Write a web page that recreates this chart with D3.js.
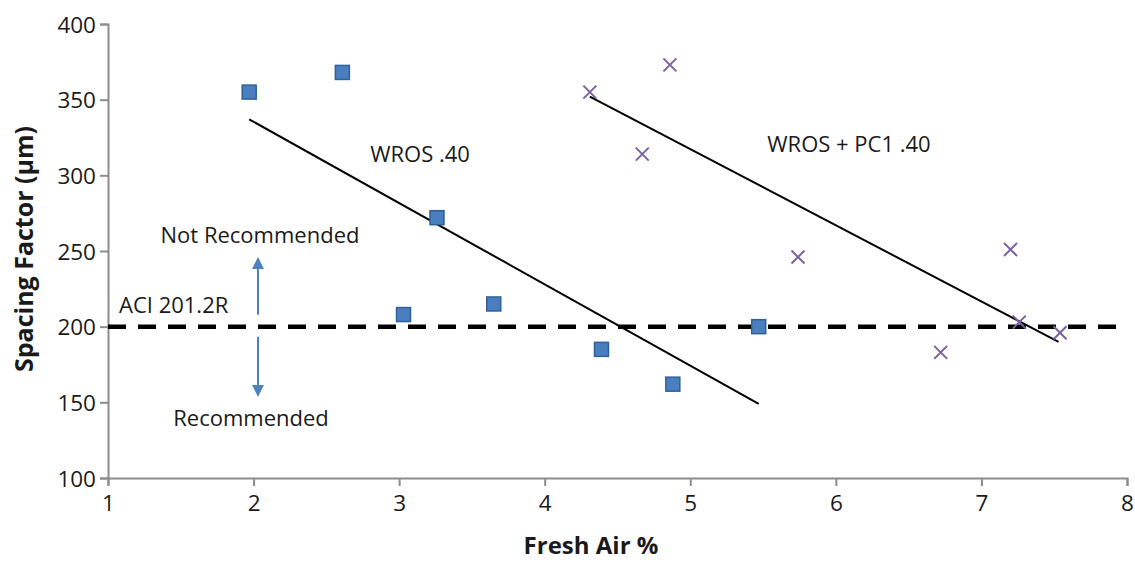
<!DOCTYPE html>
<html>
<head>
<meta charset="utf-8">
<script src="https://cdn.jsdelivr.net/npm/d3@7"></script>
<style>
  html, body { margin: 0; padding: 0; background: #fff; }
  svg { display: block; font-family: "Open Sans", sans-serif; }
</style>
</head>
<body>
<svg id="chart" width="1135" height="563"></svg>
<script>
// WROS .40 mixes (squares)
const wrosAir = [1.97, 2.61, 3.26, 3.03, 3.65, 4.39, 4.88, 5.47];
const wrosSpacing = [355, 368, 272, 208, 215, 185, 162, 200];

// WROS + PC1 .40 mixes (crosses)
const pc1Air = [4.31, 4.86, 4.67, 5.74, 7.20, 7.26, 7.54, 6.72];
const pc1Spacing = [355, 373, 314, 246, 251, 203, 196, 183];

// Linear trend lines: [x, y] endpoints
const wrosTrend = [[1.97, 337], [5.47, 149]];
const pc1Trend = [[4.31, 352], [7.53, 190]];

// ACI 201.2R spacing factor limit
const aciLimit = 200;

const xTicks = [1, 2, 3, 4, 5, 6, 7, 8];
const yTicks = [100, 150, 200, 250, 300, 350, 400];

const svg = d3.select("#chart");
const plotLeft = 108, plotRight = 1127, plotTop = 24, plotBottom = 478;

const x = d3.scaleLinear().domain([1, 8]).range([plotLeft, plotRight]);
const y = d3.scaleLinear().domain([100, 400]).range([plotBottom, plotTop]);

const axisColor = "#8c8c8c";
const textColor = "#1a1a1a";

// Axes
const gx = svg.append("g")
  .attr("transform", `translate(0,${plotBottom})`)
  .call(d3.axisBottom(x).tickValues(xTicks).tickSize(8).tickPadding(6).tickFormat(d3.format("d")));
const gy = svg.append("g")
  .attr("transform", `translate(${plotLeft},0)`)
  .call(d3.axisLeft(y).tickValues(yTicks).tickSize(8).tickPadding(4).tickFormat(d3.format("d")));

[gx, gy].forEach(g => {
  g.select(".domain").attr("stroke", axisColor).attr("stroke-width", 2);
  g.selectAll(".tick line").attr("stroke", axisColor).attr("stroke-width", 2);
  g.selectAll(".tick text")
    .attr("fill", textColor)
    .style("font-family", "'Open Sans', sans-serif")
    .style("font-size", "22.5px");
});
gx.selectAll(".tick text").attr("dy", "0.85em");
gy.selectAll(".tick text").attr("dy", "0.36em");

// Axis titles
svg.append("text")
  .attr("x", 591).attr("y", 554)
  .attr("text-anchor", "middle")
  .attr("fill", textColor)
  .style("font-weight", "bold").style("font-size", "24px")
  .text("Fresh Air %");
svg.append("text")
  .attr("transform", `translate(33,${249}) rotate(-90)`)
  .attr("text-anchor", "middle")
  .attr("fill", textColor)
  .style("font-weight", "bold").style("font-size", "25px")
  .text("Spacing Factor (μm)");

// ACI limit line
svg.append("line")
  .attr("x1", x(1)).attr("x2", x(8))
  .attr("y1", y(aciLimit)).attr("y2", y(aciLimit))
  .attr("stroke", "#000").attr("stroke-width", 4.5)
  .attr("stroke-dasharray", "18 12");

// Trend lines
const line = d3.line().x(d => x(d[0])).y(d => y(d[1]));
[wrosTrend, pc1Trend].forEach(t => {
  svg.append("path").attr("d", line(t))
    .attr("fill", "none").attr("stroke", "#000").attr("stroke-width", 2);
});

// Recommendation arrows
const arrowColor = "#4f81bd";
const ax = 258;
function arrow(y0, y1) {
  const dir = Math.sign(y1 - y0);
  const head = 12;
  svg.append("line")
    .attr("x1", ax).attr("x2", ax)
    .attr("y1", y0).attr("y2", y1 - dir * head)
    .attr("stroke", arrowColor).attr("stroke-width", 2);
  svg.append("path")
    .attr("d", `M${ax},${y1} L${ax - 6},${y1 - dir * head} L${ax + 6},${y1 - dir * head} Z`)
    .attr("fill", arrowColor);
}
arrow(y(aciLimit) - 12, 257);
arrow(y(aciLimit) + 10, 397);

// Annotations
const notes = [
  { t: "Not Recommended", x: 260, y: 243, a: "middle" },
  { t: "Recommended", x: 251, y: 426, a: "middle" },
  { t: "ACI 201.2R", x: 119, y: 313, a: "start" },
  { t: "WROS .40", x: 420, y: 162, a: "middle" },
  { t: "WROS + PC1 .40", x: 849, y: 152, a: "middle" }
];
svg.selectAll("text.note").data(notes).enter().append("text")
  .attr("class", "note")
  .attr("x", d => d.x).attr("y", d => d.y)
  .attr("text-anchor", d => d.a)
  .attr("fill", textColor)
  .style("font-size", "22px")
  .text(d => d.t);

// Squares
const sq = 14;
svg.selectAll("rect.wros").data(wrosAir.map((a, i) => [a, wrosSpacing[i]]))
  .enter().append("rect")
  .attr("class", "wros")
  .attr("x", d => x(d[0]) - sq / 2).attr("y", d => y(d[1]) - sq / 2)
  .attr("width", sq).attr("height", sq)
  .attr("fill", "#4a7ebf").attr("stroke", "#2f6199").attr("stroke-width", 1.5);

// Crosses
const cs = 6.5;
svg.selectAll("path.pc1").data(pc1Air.map((a, i) => [a, pc1Spacing[i]]))
  .enter().append("path")
  .attr("class", "pc1")
  .attr("d", d => {
    const cx = x(d[0]), cy = y(d[1]);
    return `M${cx - cs},${cy - cs}L${cx + cs},${cy + cs}M${cx - cs},${cy + cs}L${cx + cs},${cy - cs}`;
  })
  .attr("stroke", "#7b62a0").attr("stroke-width", 2).attr("fill", "none");
</script>
</body>
</html>
